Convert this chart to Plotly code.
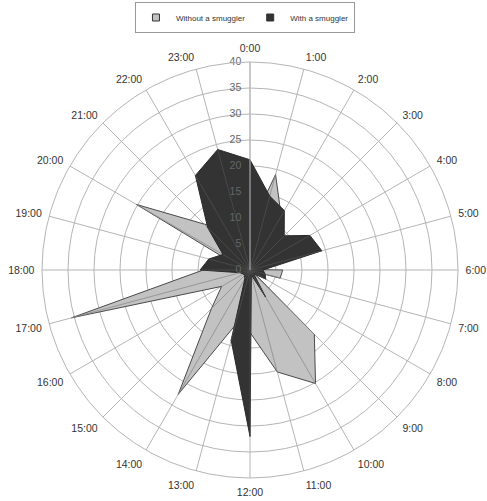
import plotly.graph_objects as go

hours = [f"{h}:00" for h in range(24)]
without_smuggler = [8, 19, 12, 6, 2, 0.5, 6.3, 6, 0.5, 17.5, 25.2, 20.3,
                    12, 11, 27.6, 10.5, 6.3, 35.5, 9, 2, 25.2, 12.5, 9, 6]
with_smuggler = [21.2, 14.7, 13.2, 9.3, 13.3, 14.3, 2.5, 3, 3.5, 1, 6, 1,
                 32, 14, 2, 1.5, 1.5, 2, 9.6, 8.2, 6, 11.5, 21, 24]
radial_ticks = [0, 5, 10, 15, 20, 25, 30, 35, 40]
series_names = ["Without a smuggler", "With a smuggler"]
fill_colors = ["#c2c2c2", "#333333"]
line_colors = ["#4a4a4a", "#2a2a2a"]
spoke_colors = ["#8c8c8c", "#4e4e4e"]


def closed(vals):
    return list(vals) + [vals[0]]


fig = go.Figure()
for vals, name, fc, lc, sc in zip([without_smuggler, with_smuggler], series_names,
                                  fill_colors, line_colors, spoke_colors):
    fig.add_trace(go.Scatterpolar(
        r=closed(vals), theta=closed(hours), name=name, showlegend=False,
        mode="lines", fill="toself", fillcolor=fc,
        line=dict(color=lc, width=1), hoverinfo="skip"))
    # spokes visible through the filled area
    rs, ths = [], []
    for h, v in zip(hours, vals):
        rs += [0, v, None]
        ths += [h, h, h]
    fig.add_trace(go.Scatterpolar(
        r=rs, theta=ths, mode="lines", showlegend=False, hoverinfo="skip",
        line=dict(color=sc, width=0.8)))

# radial tick labels drawn on top of the filled areas
fig.add_trace(go.Scatterpolar(
    r=radial_ticks, theta=[hours[0]] * len(radial_ticks), mode="text",
    text=[f"{t}\u00a0\u00a0\u00a0" for t in radial_ticks], textposition="middle left",
    textfont=dict(size=10.5, color="#666666",
                  family="Liberation Sans, Arial, sans-serif"),
    showlegend=False, hoverinfo="skip", cliponaxis=False))

# legend-only entries with small square swatches
for name, fc in zip(series_names, fill_colors):
    fig.add_trace(go.Scatterpolar(
        r=[None], theta=[hours[0]], name=name, mode="markers",
        marker=dict(symbol="square", size=7, color=fc, line=dict(color="#333333", width=1))))

fig.update_layout(
    width=487, height=501,
    margin=dict(l=0, r=0, t=0, b=0),
    paper_bgcolor="white",
    font=dict(family="Liberation Sans, Arial, sans-serif", color="#333333"),
    showlegend=True,
    legend=dict(orientation="h", x=0.503, xanchor="center", y=0.996, yanchor="top",
                bordercolor="#999999", borderwidth=1, bgcolor="white",
                font=dict(size=8, color="#333333"), itemwidth=30,
                tracegroupgap=0),
    polar=dict(
        domain=dict(x=[0.0862, 0.9405], y=[0.0459, 0.8762]),
        bgcolor="white",
        angularaxis=dict(
            type="category", categoryarray=hours, rotation=90, direction="clockwise",
            showgrid=True, gridcolor="#b5b5b5", gridwidth=1,
            showline=True, linecolor="#b5b5b5", linewidth=1,
            ticks="outside", ticklen=5, tickcolor="rgba(0,0,0,0)",
            tickfont=dict(size=10.5, color="#333333")),
        radialaxis=dict(
            range=[0, 40], tickvals=radial_ticks, angle=90,
            showticklabels=False, layer="above traces",
            showgrid=True, gridcolor="#b5b5b5", gridwidth=1,
            showline=True, linecolor="#b5b5b5", linewidth=1, ticks=""),
    ),
)

fig.write_html("out.html", config={"displayModeBar": False},
               post_script="document.body.style.margin='0';")
